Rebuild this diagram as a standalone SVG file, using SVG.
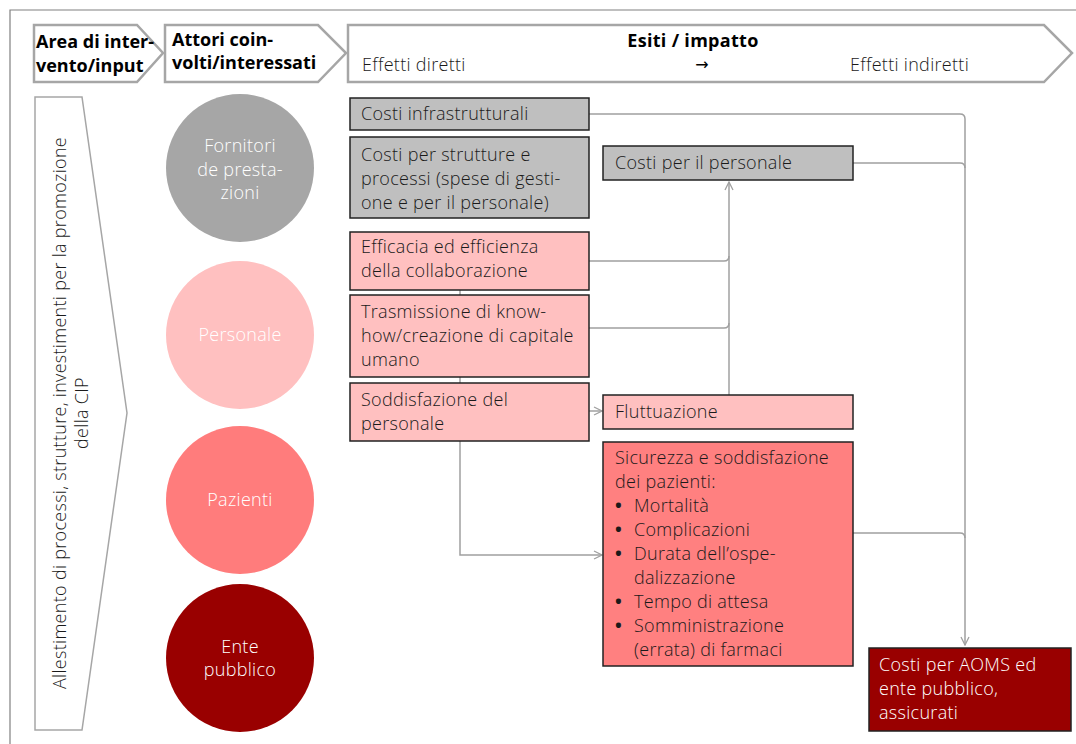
<svg xmlns="http://www.w3.org/2000/svg" width="1076" height="744" viewBox="0 0 1076 744">
<defs>
<style>
text{font-family:"Open Sans","Liberation Sans",sans-serif;font-size:18px;fill:#1a1a1a;font-weight:300;letter-spacing:0.3px}
.hb{font-weight:700;fill:#000;font-size:18px;letter-spacing:0px}
.hdr{fill:#fff;stroke:#a6a6a6;stroke-width:2.5}
.box{stroke:#222;stroke-width:1.5}
.grey{fill:#bfbfbf}
.pink{fill:#ffc0c0}
.red{fill:#ff8080}
.dark{fill:#990000}
.wt{fill:#fff}
.bul{font-weight:700}
.con{fill:none;stroke:#a0a0a0;stroke-width:1.5}
</style>
<marker id="arr" viewBox="0 0 10 10" refX="9" refY="5" markerWidth="10" markerHeight="10" markerUnits="userSpaceOnUse" orient="auto">
<path d="M1,1 L9,5 L1,9" fill="none" stroke="#a0a0a0" stroke-width="1.3"/>
</marker>
</defs>
<rect width="1076" height="744" fill="#fff"/>
<path d="M10,744 V10 H1076" fill="none" stroke="#808080" stroke-width="1.2"/>

<g id="hdr-area">
<polygon class="hdr" points="34,25 137,25 163,53 137,82 34,82"/>
<text class="hb" x="36" y="48">Area di inter-</text>
<text class="hb" x="36" y="72">vento/input</text>
</g>
<g id="hdr-attori">
<polygon class="hdr" points="165,25 318,25 346,53 318,82 165,82"/>
<text class="hb" x="172" y="46">Attori coin-</text>
<text class="hb" x="172" y="69">volti/interessati</text>
</g>
<g id="hdr-esiti">
<polygon class="hdr" points="348,25 1044,25 1072,53 1044,82 348,82"/>
<text class="hb" x="693" y="47" text-anchor="middle" style="letter-spacing:0.3px">Esiti / impatto</text>
<text x="362" y="71">Effetti diretti</text>
<text x="702" y="70" text-anchor="middle" style="font-family:'DejaVu Sans',sans-serif;font-weight:400;font-size:16px;fill:#000;letter-spacing:0">→</text>
<text x="850" y="71">Effetti indiretti</text>
</g>

<g id="input">
<polygon points="35,97 82,97 127,413 82,730 35,730" fill="#fff" stroke="#a6a6a6" stroke-width="1.5"/>
<text transform="translate(66,413) rotate(-90)" text-anchor="middle">Allestimento di processi, strutture, investimenti per la promozione</text>
<text transform="translate(88,413) rotate(-90)" text-anchor="middle">della CIP</text>
</g>

<g id="fornitori">
<circle cx="240" cy="168" r="74" fill="#a6a6a6"/>
<text class="wt" x="240" y="152" text-anchor="middle">Fornitori</text>
<text class="wt" x="240" y="176" text-anchor="middle">de presta-</text>
<text class="wt" x="240" y="199" text-anchor="middle">zioni</text>
</g>
<g id="personale">
<circle cx="240" cy="335" r="74" fill="#ffc0c0"/>
<text class="wt" x="240" y="341" text-anchor="middle">Personale</text>
</g>
<g id="pazienti">
<circle cx="240" cy="500" r="74" fill="#ff7c7c"/>
<text class="wt" x="240" y="506" text-anchor="middle">Pazienti</text>
</g>
<g id="ente">
<circle cx="240" cy="658" r="74" fill="#990000"/>
<text class="wt" x="240" y="653" text-anchor="middle">Ente</text>
<text class="wt" x="240" y="676" text-anchor="middle">pubblico</text>
</g>

<g id="connectors">
<path class="con" d="M589,114 H960 Q965,114 965,119 V645" marker-end="url(#arr)"/>
<path class="con" d="M853,163 H960 Q965,163 965,168"/>
<path class="con" d="M853,533 H960 Q965,533 965,538"/>
<path class="con" d="M589,261 H724 Q729,261 729,256"/>
<path class="con" d="M589,328 H724 Q729,328 729,323"/>
<path class="con" d="M729,395 V182" marker-end="url(#arr)"/>
<path class="con" d="M589,411 H602" marker-end="url(#arr)"/>
<path class="con" d="M460,290 V295 M460,377 V383"/>
<path class="con" d="M460,441 V555 H602" marker-end="url(#arr)"/>
</g>

<g id="costi-infra">
<rect class="box grey" x="350" y="98" width="239" height="32"/>
<text x="361" y="120">Costi infrastrutturali</text>
</g>
<g id="costi-strutture">
<rect class="box grey" x="350" y="137" width="239" height="81"/>
<text x="361" y="161">Costi per strutture e</text>
<text x="361" y="185">processi (spese di gesti-</text>
<text x="361" y="209">one e per il personale)</text>
</g>
<g id="efficacia">
<rect class="box pink" x="350" y="232" width="239" height="58"/>
<text x="361" y="253">Efficacia ed efficienza</text>
<text x="361" y="277">della collaborazione</text>
</g>
<g id="trasmissione">
<rect class="box pink" x="350" y="295" width="239" height="82"/>
<text x="361" y="318">Trasmissione di know-</text>
<text x="361" y="342">how/creazione di capitale</text>
<text x="361" y="366">umano</text>
</g>
<g id="soddisfazione">
<rect class="box pink" x="350" y="383" width="239" height="58"/>
<text x="361" y="406">Soddisfazione del</text>
<text x="361" y="430">personale</text>
</g>
<g id="costi-personale">
<rect class="box grey" x="603" y="146" width="250" height="34"/>
<text x="615" y="169">Costi per il personale</text>
</g>
<g id="fluttuazione">
<rect class="box pink" x="603" y="395" width="250" height="34"/>
<text x="615" y="418">Fluttuazione</text>
</g>
<g id="sicurezza">
<rect class="box red" x="603" y="442" width="250" height="224"/>
<text x="615" y="464">Sicurezza e soddisfazione</text>
<text x="615" y="488">dei pazienti:</text>
<text class="bul" x="615" y="512">•</text><text x="634" y="512">Mortalità</text>
<text class="bul" x="615" y="536">•</text><text x="634" y="536">Complicazioni</text>
<text class="bul" x="615" y="560">•</text><text x="634" y="560">Durata dell’ospe-</text>
<text x="634" y="584">dalizzazione</text>
<text class="bul" x="615" y="608">•</text><text x="634" y="608">Tempo di attesa</text>
<text class="bul" x="615" y="632">•</text><text x="634" y="632">Somministrazione</text>
<text x="634" y="656">(errata) di farmaci</text>
</g>
<g id="costi-aoms">
<rect class="box dark" x="869" y="648" width="202" height="83"/>
<text class="wt" x="879" y="671">Costi per AOMS ed</text>
<text class="wt" x="879" y="695">ente pubblico,</text>
<text class="wt" x="879" y="719">assicurati</text>
</g>
</svg>
